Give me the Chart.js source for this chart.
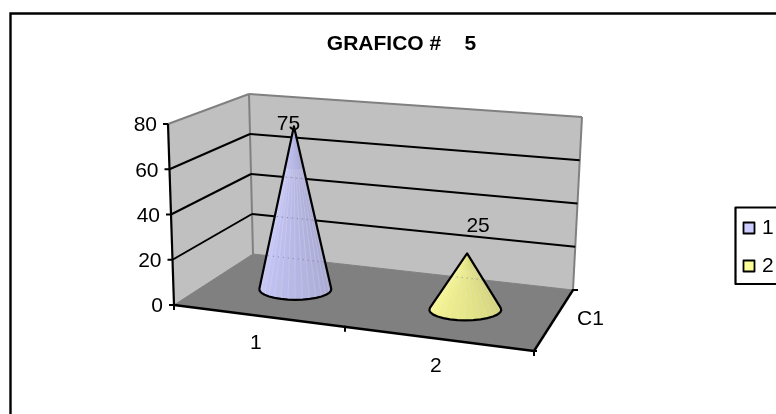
<!DOCTYPE html>
<html>
<head>
<meta charset="utf-8">
<style>html,body{margin:0;padding:0;background:#fff}canvas{display:block}</style>
<script src="https://cdn.jsdelivr.net/npm/chart.js@4/dist/chart.umd.js"></script>
</head>
<body>
<canvas id="c" width="776" height="414"></canvas>
<script>
// ---- data ----
const titleText = 'GRAFICO #    5';
const categories = ['1', '2'];
const seriesName = 'C1';
const seriesValues = [75, 25];
const pointColors = ['#CCCCFF', '#FFFF99'];
const yMin = 0, yMax = 80, yStep = 20;

// ---- look ----
const FONT = '"Liberation Sans", Arial, sans-serif';
const SIZE = 21;
const A = [174, 305], B = [534, 351], C = [253, 254], D = [573, 290];
const VA = [-6, -181], VB = [10, -196], VC = [-4, -160], VD = [9, -173];
const labelShift = [[-5.5, -2], [11, -27]];

const bil = (u, d, a, b, c, e, k) =>
  (a[k] * (1 - u) + b[k] * u) * (1 - d) + (c[k] * (1 - u) + e[k] * u) * d;
function proj(u, h, d) {
  const w = u - 0.1 * (1 - d) * u * (1 - u);
  return [
    bil(w, d, A, B, C, D, 0) + h * bil(w, d, VA, VB, VC, VD, 0),
    bil(w, d, A, B, C, D, 1) + h * bil(w, d, VA, VB, VC, VD, 1)
  ];
}
const uOf = (chart, px) => (px - chart.scales.x.left) / chart.scales.x.width;
const hOf = (chart, py) => (chart.scales.y.bottom - py) / chart.scales.y.height;

function poly(ctx, pts) {
  ctx.beginPath();
  pts.forEach((p, i) => i ? ctx.lineTo(p[0], p[1]) : ctx.moveTo(p[0], p[1]));
  ctx.closePath();
}
function seg(ctx, a, b, color, w) {
  ctx.beginPath(); ctx.moveTo(a[0], a[1]); ctx.lineTo(b[0], b[1]);
  ctx.strokeStyle = color; ctx.lineWidth = w; ctx.stroke();
}
function shade(hex, f) {
  const n = parseInt(hex.slice(1), 16);
  const c = [n >> 16 & 255, n >> 8 & 255, n & 255].map(v => Math.round(v * f));
  return `rgb(${c[0]},${c[1]},${c[2]})`;
}

// Cone-shaped "bar": geometry comes from the bar elements laid out by the scales.
class ConeController extends Chart.BarController {
  draw() {
    const chart = this.chart, ctx = chart.ctx, meta = this.getMeta();
    meta.data.forEach((el, i) => {
      const u = uOf(chart, el.x), h = hOf(chart, el.y);
      const c = proj(u, 0, 0.5), apex = proj(u, h, 0.5);
      const rx = el.width / 2, ry = rx * 0.29;
      const alpha = Math.asin(ry / Math.abs(apex[1] - c[1]));
      const N = 16, pts = [];
      for (let k = 0; k <= N; k++) {
        const t = -alpha + (Math.PI + 2 * alpha) * k / N;
        pts.push([c[0] + rx * Math.cos(t), c[1] + ry * Math.sin(t)]);
      }
      pts.reverse(); // left to right
      const base = pointColors[i];
      for (let k = 0; k < N; k++) {
        const f = 0.99 - 0.18 * (k / (N - 1));
        poly(ctx, [apex, pts[k], pts[k + 1]]);
        ctx.fillStyle = shade(base, f); ctx.fill();
        ctx.strokeStyle = shade(base, f); ctx.lineWidth = 0.6; ctx.stroke();
        if (k) seg(ctx, [apex[0] + (pts[k][0] - apex[0]) * 0.25, apex[1] + (pts[k][1] - apex[1]) * 0.25], pts[k], 'rgba(255,255,255,0.28)', 0.7);
      }
      // back-wall lines faintly visible through the cone
      ctx.save();
      poly(ctx, [apex, ...pts]); ctx.clip();
      ctx.setLineDash([1, 4]);
      chart.scales.y.ticks.forEach(t => {
        const hh = hOf(chart, chart.scales.y.getPixelForValue(t.value));
        seg(ctx, proj(0, hh, 1), proj(1, hh, 1), 'rgba(90,90,110,0.6)', 1);
      });
      ctx.restore();
      // outline
      poly(ctx, [apex, ...pts]);
      ctx.lineJoin = 'round'; ctx.strokeStyle = '#000'; ctx.lineWidth = 2.2; ctx.stroke();
    });
  }
}
ConeController.id = 'cone';
ConeController.defaults = Chart.BarController.defaults;
Chart.register(ConeController);

const scene = {
  id: 'scene',
  afterLayout(chart) {
    const t = chart.titleBlock;
    t.left = 301.5; t.right = 501.5;
    // the value axis leans in this view: its labels follow it
    const yS = chart.scales.y;
    yS.getLabelItems().forEach((it, i) => {
      const h = hOf(chart, yS.getPixelForValue(yS.ticks[i].value));
      const p = proj(0, h, 0);
      it.options.translation[0] = p[0] - 11;
      it.options.translation[1] = p[1] + 1.5;
    });
  },
  beforeDraw(chart) {
    const ctx = chart.ctx;
    ctx.save();
    ctx.fillStyle = '#fff'; ctx.fillRect(0, 0, chart.width, chart.height);
    ctx.strokeStyle = '#000'; ctx.lineWidth = 2.4;
    ctx.beginPath(); ctx.moveTo(10.5, 414); ctx.lineTo(10.5, 13.5); ctx.lineTo(776, 13.5); ctx.stroke();
    ctx.restore();
  },
  beforeDatasetsDraw(chart) {
    const ctx = chart.ctx, yS = chart.scales.y;
    ctx.save();
    const gray = '#808080';
    // walls and floor
    poly(ctx, [proj(0, 0, 0), proj(0, 1, 0), proj(0, 1, 1), proj(0, 0, 1)]);
    ctx.fillStyle = '#C0C0C0'; ctx.fill();
    poly(ctx, [proj(0, 0, 1), proj(0, 1, 1), proj(1, 1, 1), proj(1, 0, 1)]);
    ctx.fill();
    poly(ctx, [proj(0, 0, 0), proj(1, 0, 0), proj(1, 0, 1), proj(0, 0, 1)]);
    ctx.fillStyle = gray; ctx.fill();
    // wall edges
    seg(ctx, proj(0, 1, 0), proj(0, 1, 1), gray, 2);
    seg(ctx, proj(0, 1, 1), proj(1, 1, 1), gray, 2);
    seg(ctx, proj(0, 1, 1), proj(0, 0, 1), gray, 2);
    seg(ctx, proj(1, 1, 1), proj(1, 0, 1), gray, 2);
    seg(ctx, proj(0, 0, 0), proj(0, 0, 1), gray, 1);
    seg(ctx, proj(0, 0, 1), proj(1, 0, 1), gray, 1);
    // gridlines
    yS.ticks.forEach(t => {
      const h = hOf(chart, yS.getPixelForValue(t.value));
      if (t.value > yMin && t.value < yMax) {
        seg(ctx, proj(0, h, 0), proj(0, h, 1), '#000', 2);
        seg(ctx, proj(0, h, 1), proj(1, h, 1), '#000', 2);
      }
      const p = proj(0, h, 0);
      seg(ctx, [p[0] - 5, p[1]], [p[0] + (t.value === yMin ? 4 : 0), p[1]], '#000', 2);
    });
    // axes
    seg(ctx, proj(0, 0, 0), proj(0, 1, 0), '#000', 2.2);
    seg(ctx, proj(0, 0, 0), proj(1, 0, 0), '#000', 2.4);
    seg(ctx, proj(1, 0, 0), proj(1, 0, 1), '#000', 2.4);
    // axis ticks
    const tick = (u) => { const p = proj(u, 0, 0); seg(ctx, [p[0], p[1] - 1], [p[0], p[1] + 5], '#000', 2); };
    tick(0); tick(0.5); tick(1);
    const b = proj(1, 0, 0), dd = proj(1, 0, 1);
    seg(ctx, [b[0] - 3, b[1]], [b[0] + 3, b[1]], '#000', 2);
    seg(ctx, [dd[0] - 1, dd[1]], [dd[0] + 5, dd[1]], '#000', 2);
    ctx.restore();
  },
  afterDatasetsDraw(chart) {
    const ctx = chart.ctx, meta = chart.getDatasetMeta(0);
    ctx.save();
    ctx.font = `${SIZE}px ${FONT}`;
    ctx.fillStyle = '#000';
    ctx.textAlign = 'center'; ctx.textBaseline = 'middle';
    meta.data.forEach((el, i) => {
      const u = uOf(chart, el.x), h = hOf(chart, el.y);
      const apex = proj(u, h, 0.5);
      ctx.fillText(String(seriesValues[i]), apex[0] + labelShift[i][0], apex[1] + labelShift[i][1]);
      const f = proj(u, 0, 0);
      ctx.fillText(categories[i], f[0] - 1.5, f[1] + 28);
    });
    const m = proj(1, 0, 0.5);
    ctx.fillText(seriesName, m[0] + 37, m[1] - 1.5);
    // legend
    ctx.strokeStyle = '#000'; ctx.lineWidth = 2.2;
    ctx.beginPath(); ctx.moveTo(776, 207.5); ctx.lineTo(735.5, 207.5); ctx.lineTo(735.5, 284); ctx.lineTo(776, 284); ctx.stroke();
    ctx.textAlign = 'left';
    categories.forEach((c, i) => {
      const y = 222.5 + i * 38;
      ctx.fillStyle = pointColors[i];
      ctx.fillRect(743.5, y, 11, 11);
      ctx.strokeStyle = '#000'; ctx.lineWidth = 1.8;
      ctx.strokeRect(743.5, y, 11, 11);
      ctx.fillStyle = '#000';
      ctx.fillText(c, 762, y + 6);
    });
    ctx.restore();
  }
};

new Chart(document.getElementById('c'), {
  type: 'cone',
  data: {
    labels: categories,
    datasets: [{
      label: seriesName,
      data: seriesValues,
      backgroundColor: pointColors,
      categoryPercentage: 0.4,
      barPercentage: 1,
      clip: false
    }]
  },
  options: {
    responsive: false,
    animation: false,
    events: [],
    layout: { padding: { left: 27, right: 242, top: 0, bottom: 109 } },
    plugins: {
      legend: { display: false },
      tooltip: { enabled: false },
      title: {
        display: true,
        text: titleText,
        color: '#000',
        font: { family: FONT, size: 21, weight: 'bold', lineHeight: 1.2 },
        padding: { top: 31.7, bottom: 67.1 }
      }
    },
    scales: {
      x: { type: 'category', display: false, offset: true },
      y: {
        type: 'linear',
        min: yMin, max: yMax,
        afterFit(s) { s.width = 147; },
        grid: { display: false },
        border: { display: false },
        ticks: { stepSize: yStep, color: '#000', font: { family: FONT, size: SIZE }, autoSkip: false }
      }
    }
  },
  plugins: [scene]
});
</script>
</body>
</html>
